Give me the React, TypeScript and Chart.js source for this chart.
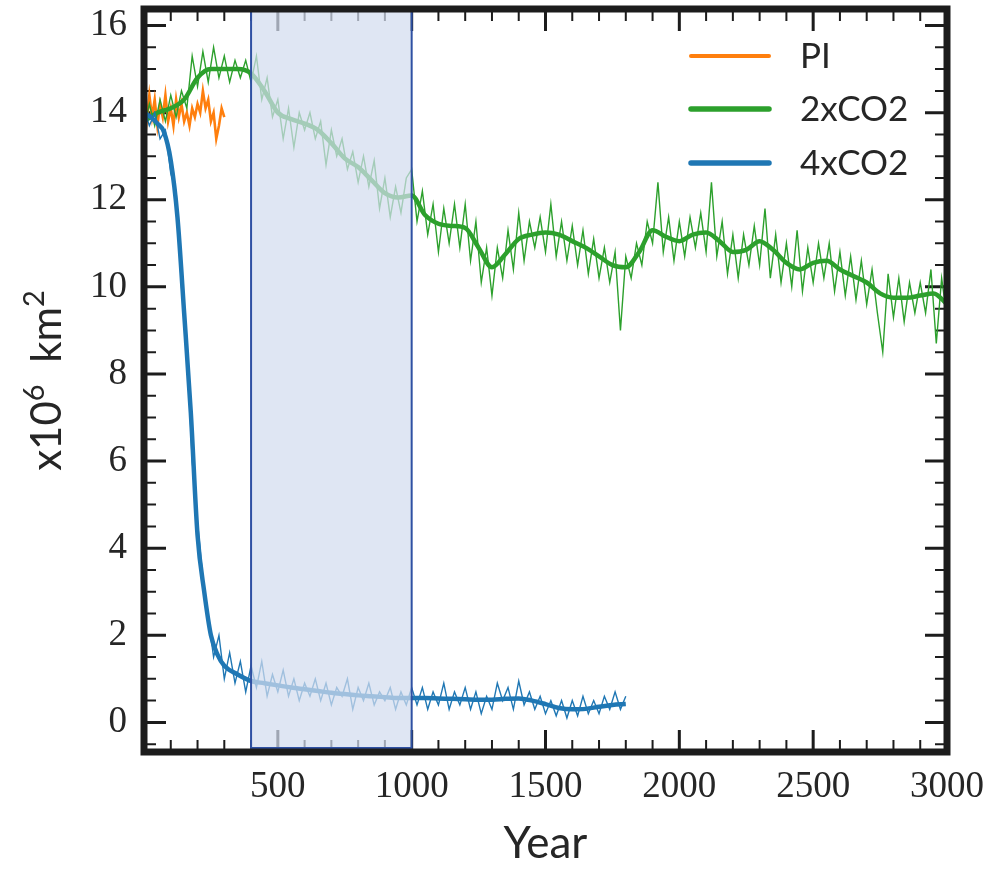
import React, { useEffect, useRef } from "react";
import { Chart, registerables } from "chart.js";

Chart.register(...registerables);

// ---- axes ----
const X_MIN = 0;
const X_MAX = 3000;
const Y_MIN = -0.68;
const Y_MAX = 16.38;
const X_TICKS = [500, 1000, 1500, 2000, 2500, 3000];
const Y_TICKS = [0, 2, 4, 6, 8, 10, 12, 14, 16];
const X_MINOR_STEP = 100;
const Y_MINOR_STEP = 0.5;
const SHADE_RANGE = [400, 1000];

const X_TITLE = "Year";
const Y_TITLE_PARTS = ["x10", "6", "  km", "2"];
const LEGEND_LABELS = ["PI", "2xCO2", "4xCO2"];

const ORANGE = "#ff7f0e";
const GREEN = "#2ca02c";
const BLUE = "#1f77b4";

// ---- data ----
const PI_START = 0;
const PI_STEP = 10;
const piRaw = [
  14.2, 13.8, 14.4, 13.9, 14.3, 13.7, 14.2, 13.9, 14.4, 13.8,
  14.1, 13.7, 14.3, 13.9, 14.2, 13.8, 14.0, 13.7, 14.1, 13.9,
  14.2, 14.0, 14.5, 14.1, 14.3, 13.8, 14.0, 13.4, 13.7, 14.1,
  13.9,
];

const RAW_START = 0;
const RAW_STEP = 20;
const co2x2Raw = [
  13.6, 14.2, 13.7, 14.3, 13.8, 14.4, 13.9, 14.5, 14.1, 15.3,
  14.6, 15.4, 14.7, 15.5, 14.8, 15.3, 14.7, 15.2, 14.8, 15.2,
  14.7, 15.3, 14.3, 14.8, 13.9, 14.3, 13.4, 14.1, 13.2, 14.0,
  13.6, 14.0, 13.4, 13.8, 12.8, 13.6, 13.0, 13.4, 12.7, 13.1,
  12.4, 13.0, 12.3, 12.9, 11.8, 12.5, 11.6, 12.3, 11.7, 12.5,
  12.7, 11.5, 12.2, 11.2, 11.9, 10.8, 11.8, 11.0, 11.9, 10.9,
  11.9, 10.6, 11.5, 10.1, 10.9, 9.8, 10.9, 10.2, 11.3, 10.4,
  11.7, 10.6, 11.5, 10.9, 11.6, 10.8, 11.9, 10.7, 11.5, 10.6,
  11.4, 10.5, 11.3, 10.3, 11.1, 10.2, 10.9, 10.1, 10.8, 9.0,
  10.7, 10.2, 11.0, 10.5, 11.5, 11.0, 12.4, 10.8, 11.6, 10.6,
  11.5, 10.7, 11.6, 10.9, 11.7, 10.8, 12.4, 10.7, 11.5, 10.3,
  11.2, 10.2, 11.2, 10.5, 11.4, 10.5, 11.8, 10.2, 11.2, 10.1,
  11.0, 10.0, 11.3, 9.9, 10.9, 10.1, 11.0, 10.2, 11.0, 9.9,
  10.8, 9.8, 10.7, 9.7, 10.6, 9.6, 10.4, 9.4, 8.5, 10.3,
  9.3, 10.2, 9.2, 10.1, 9.4, 10.1, 9.4, 10.4, 8.7, 10.2,
  9.3,
];
const co2x4Raw = [
  14.1, 13.7, 14.0, 13.4, 13.6, 12.6, 12.2, 10.0, 8.8, 6.0,
  4.6, 3.3, 2.4, 1.5, 2.0, 1.0, 1.6, 0.9, 1.4, 0.7,
  1.3, 0.8, 1.4, 0.6, 1.1, 0.7, 1.2, 0.6, 1.0, 0.5,
  0.9, 0.6, 1.0, 0.5, 0.9, 0.4, 0.8, 0.6, 1.0, 0.3,
  0.8, 0.5, 0.9, 0.4, 0.7, 0.5, 0.8, 0.3, 0.7, 0.4,
  0.8, 0.4, 0.8, 0.3, 0.7, 0.4, 0.9, 0.3, 0.7, 0.4,
  0.8, 0.3, 0.7, 0.2, 0.6, 0.3, 0.9, 0.5, 0.8, 0.3,
  0.95, 0.4, 0.7, 0.3, 0.6, 0.2, 0.5, 0.15, 0.5, 0.1,
  0.5, 0.15, 0.6, 0.2, 0.5, 0.2, 0.6, 0.3, 0.7, 0.3,
  0.6,
];

const SMOOTH2_START = 0;
const SMOOTH2_STEP = 50;
const co2x2Smooth = [
  13.8, 14.0, 14.1, 14.3, 14.8, 15.0, 15.0, 15.0, 14.9, 14.5,
  14.0, 13.85, 13.75, 13.6, 13.3, 12.95, 12.75, 12.45, 12.15, 12.05,
  12.1, 11.65, 11.45, 11.4, 11.35, 10.9, 10.45, 10.75, 11.1, 11.2,
  11.25, 11.2, 11.05, 10.9, 10.7, 10.5, 10.45, 10.8, 11.3, 11.15,
  11.05, 11.2, 11.25, 11.05, 10.8, 10.85, 11.05, 10.85, 10.55, 10.4,
  10.55, 10.6, 10.4, 10.25, 10.1, 9.85, 9.75, 9.75, 9.8, 9.85,
  9.6,
];

const co2x4SmoothYears = [
  0, 25, 50, 75, 100, 125, 150, 175, 200, 225, 250, 275, 300,
  350, 400, 450, 500, 550, 600, 650, 700, 750, 800, 850, 900, 950,
  1000, 1050, 1100, 1150, 1200, 1250, 1300, 1350, 1400, 1450, 1500,
  1550, 1600, 1650, 1700, 1750, 1800,
];
const co2x4Smooth = [
  14.0, 13.9, 13.75, 13.55, 12.9, 11.6, 9.4, 7.1, 4.3, 3.0, 2.0, 1.55, 1.3,
  1.1, 0.95, 0.9, 0.85, 0.8, 0.76, 0.72, 0.68, 0.65, 0.62, 0.6, 0.58, 0.56,
  0.56, 0.56, 0.55, 0.54, 0.53, 0.52, 0.52, 0.54, 0.55, 0.5, 0.42,
  0.33, 0.3, 0.31, 0.36, 0.4, 0.42,
];

const stepped = (start: number, step: number, vals: number[]) =>
  vals.map((v, i) => ({ x: start + i * step, y: v }));
const paired = (xs: number[], vals: number[]) =>
  vals.map((v, i) => ({ x: xs[i], y: v }));

// ---- style ----
const FRAME = "#1c1c1c";
const TEXT = "#262626";
const SERIF = "'Liberation Serif', 'DejaVu Serif', serif";
const SANS = "Lato, 'Open Sans', sans-serif";

const decorPlugin = {
  id: "decor",
  beforeDatasetsDraw(chart: any) {
    const { ctx, chartArea: a, scales } = chart;
    const xs = scales.x;
    const ys = scales.y;
    ctx.save();
    ctx.strokeStyle = FRAME;
    ctx.lineCap = "butt";
    const nx = Math.round((X_MAX - X_MIN) / X_MINOR_STEP);
    for (let i = 1; i < nx; i++) {
      const v = X_MIN + i * X_MINOR_STEP;
      const major = X_TICKS.includes(v);
      const len = major ? 22 : 12;
      ctx.lineWidth = major ? 3 : 2;
      const px = xs.getPixelForValue(v);
      ctx.beginPath();
      ctx.moveTo(px, a.bottom);
      ctx.lineTo(px, a.bottom - len);
      ctx.moveTo(px, a.top);
      ctx.lineTo(px, a.top + len);
      ctx.stroke();
    }
    const k0 = Math.ceil(Y_MIN / Y_MINOR_STEP);
    const k1 = Math.floor(Y_MAX / Y_MINOR_STEP);
    for (let k = k0; k <= k1; k++) {
      const v = k * Y_MINOR_STEP;
      const major = Y_TICKS.includes(v);
      const len = major ? 22 : 12;
      ctx.lineWidth = major ? 3 : 2;
      const py = ys.getPixelForValue(v);
      ctx.beginPath();
      ctx.moveTo(a.left, py);
      ctx.lineTo(a.left + len, py);
      ctx.moveTo(a.right, py);
      ctx.lineTo(a.right - len, py);
      ctx.stroke();
    }
    ctx.restore();
  },
  afterDatasetsDraw(chart: any) {
    const { ctx, chartArea: a, scales } = chart;
    const xs = scales.x;
    ctx.save();
    // shaded window
    const sx0 = xs.getPixelForValue(SHADE_RANGE[0]);
    const sx1 = xs.getPixelForValue(SHADE_RANGE[1]);
    const sy0 = a.top + 2;
    const sy1 = a.bottom - 4;
    ctx.fillStyle = "rgba(211,221,238,0.72)";
    ctx.fillRect(sx0, sy0, sx1 - sx0, sy1 - sy0);
    ctx.strokeStyle = "#2f51a3";
    ctx.lineWidth = 2;
    ctx.strokeRect(sx0, sy0, sx1 - sx0, sy1 - sy0);
    // frame
    ctx.strokeStyle = FRAME;
    ctx.lineWidth = 7;
    ctx.strokeRect(a.left, a.top, a.right - a.left, a.bottom - a.top);

    // legend
    const colors = [ORANGE, GREEN, BLUE];
    const widths = [4, 5.5, 5.5];
    const rowY = [56, 109, 163];
    ctx.font = `35px ${SANS}`;
    ctx.textBaseline = "middle";
    ctx.textAlign = "left";
    for (let i = 0; i < LEGEND_LABELS.length; i++) {
      ctx.strokeStyle = colors[i];
      ctx.lineWidth = widths[i];
      ctx.lineCap = "round";
      ctx.beginPath();
      ctx.moveTo(691, rowY[i]);
      ctx.lineTo(769, rowY[i]);
      ctx.stroke();
      ctx.fillStyle = TEXT;
      ctx.fillText(LEGEND_LABELS[i], 800, rowY[i] + 1);
    }

    // x title
    ctx.fillStyle = TEXT;
    ctx.font = `44px ${SANS}`;
    ctx.textAlign = "center";
    ctx.textBaseline = "alphabetic";
    ctx.fillText(X_TITLE, (a.left + a.right) / 2, 858);

    // y title (rotated, with superscripts)
    const big = `42px ${SANS}`;
    const small = `29px ${SANS}`;
    const fonts = [big, small, big, small];
    const raise = [0, -17, 0, -17];
    let total = 0;
    const w: number[] = [];
    for (let i = 0; i < Y_TITLE_PARTS.length; i++) {
      ctx.font = fonts[i];
      w.push(ctx.measureText(Y_TITLE_PARTS[i]).width);
      total += w[i];
    }
    ctx.translate(61, (a.top + a.bottom) / 2);
    ctx.rotate(-Math.PI / 2);
    ctx.textAlign = "left";
    let cx = -total / 2;
    for (let i = 0; i < Y_TITLE_PARTS.length; i++) {
      ctx.font = fonts[i];
      ctx.fillText(Y_TITLE_PARTS[i], cx, raise[i]);
      cx += w[i];
    }
    ctx.restore();
  },
};

export default function App() {
  const ref = useRef<HTMLCanvasElement>(null);
  useEffect(() => {
    const chart = new Chart(ref.current as HTMLCanvasElement, {
      type: "line",
      data: {
        datasets: [
          {
            label: "4xCO2 smooth",
            data: paired(co2x4SmoothYears, co2x4Smooth),
            borderColor: BLUE,
            borderWidth: 4.5,
            pointRadius: 0,
            cubicInterpolationMode: "monotone",
            borderJoinStyle: "round",
          },
          {
            label: "4xCO2",
            data: stepped(RAW_START, RAW_STEP, co2x4Raw),
            borderColor: BLUE,
            borderWidth: 1.4,
            pointRadius: 0,
          },
          {
            label: "2xCO2 smooth",
            data: stepped(SMOOTH2_START, SMOOTH2_STEP, co2x2Smooth),
            borderColor: GREEN,
            borderWidth: 4.5,
            pointRadius: 0,
            cubicInterpolationMode: "monotone",
            borderJoinStyle: "round",
          },
          {
            label: "2xCO2",
            data: stepped(RAW_START, RAW_STEP, co2x2Raw),
            borderColor: GREEN,
            borderWidth: 1.4,
            pointRadius: 0,
          },
          {
            label: "PI",
            data: stepped(PI_START, PI_STEP, piRaw),
            borderColor: ORANGE,
            borderWidth: 2.6,
            pointRadius: 0,
          },
        ],
      },
      options: {
        responsive: false,
        devicePixelRatio: 1,
        animation: false,
        layout: { padding: { left: 0, top: 9, right: 53, bottom: 0 } },
        plugins: {
          legend: { display: false },
          tooltip: { enabled: false },
        },
        scales: {
          x: {
            type: "linear",
            min: X_MIN,
            max: X_MAX,
            grid: { display: false, drawTicks: false },
            border: { display: false },
            afterBuildTicks: (s: any) => {
              s.ticks = X_TICKS.map((v) => ({ value: v }));
            },
            afterFit: (s: any) => {
              s.height = 117;
              s.paddingLeft = 0;
              s.paddingRight = 0;
            },
            ticks: {
              autoSkip: false,
              maxRotation: 0,
              padding: 13,
              color: TEXT,
              font: { family: SERIF, size: 37 },
              callback: (v: any) => String(v),
            },
          },
          y: {
            type: "linear",
            min: Y_MIN,
            max: Y_MAX,
            grid: { display: false, drawTicks: false },
            border: { display: false },
            afterBuildTicks: (s: any) => {
              s.ticks = Y_TICKS.map((v) => ({ value: v }));
            },
            afterFit: (s: any) => {
              s.width = 144;
              s.paddingTop = 0;
              s.paddingBottom = 0;
            },
            ticks: {
              autoSkip: false,
              padding: 17,
              color: TEXT,
              font: { family: SERIF, size: 37 },
              callback: (v: any) => String(v),
            },
          },
        },
      },
      plugins: [decorPlugin],
    } as any);
    return () => chart.destroy();
  }, []);
  return (
    <div
      style={{
        position: "fixed",
        left: 0,
        top: 0,
        width: 1000,
        height: 869,
        background: "#ffffff",
      }}
    >
      <canvas
        ref={ref}
        width={1000}
        height={869}
        style={{ display: "block", width: 1000, height: 869 }}
      />
    </div>
  );
}
